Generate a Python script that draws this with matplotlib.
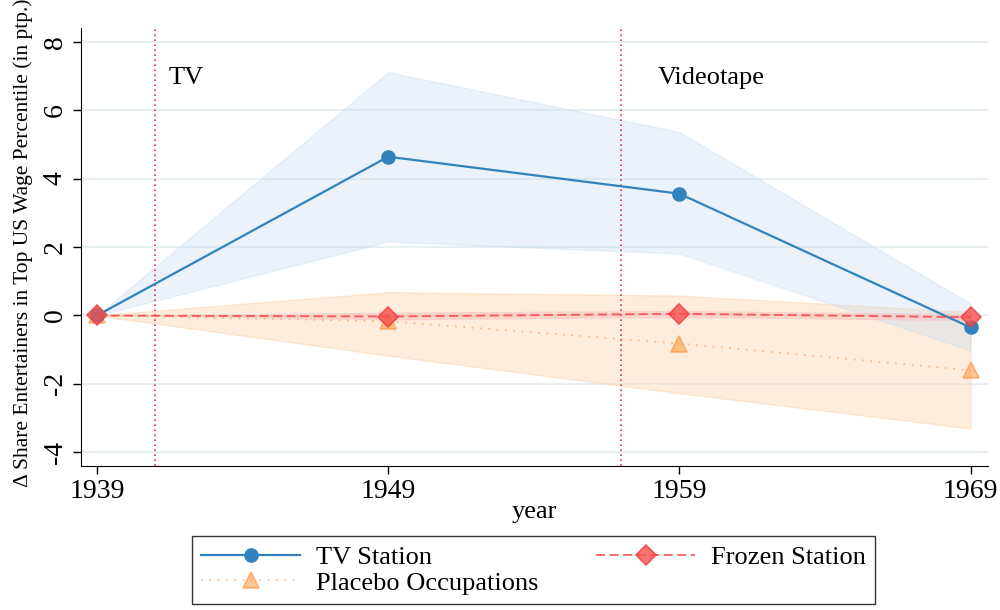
import numpy as np
import matplotlib
matplotlib.use('Agg')
import matplotlib.pyplot as plt

plt.rcParams['font.family'] = ['Liberation Serif', 'DejaVu Serif']
plt.rcParams['axes.unicode_minus'] = False

years = [1939, 1949, 1959, 1969]

tv = [0.0, 4.64, 3.56, -0.35]
tv_lo = [0.0, 2.16, 1.81, -1.02]
tv_hi = [0.0, 7.11, 5.36, 0.35]

frozen = [0.0, -0.03, 0.05, -0.05]
frozen_lo = [0.0, -0.13, -0.06, -0.15]
frozen_hi = [0.0, 0.10, 0.15, 0.05]

placebo = [0.0, -0.17, -0.82, -1.60]
placebo_lo = [0.0, -1.17, -2.27, -3.30]
placebo_hi = [0.0, 0.68, 0.58, 0.10]

event_years = [1941.0, 1957.0]
event_labels = ['TV', 'Videotape']
label_x = [1941.45, 1958.25]

fig = plt.figure(figsize=(10, 6.1), dpi=100)
ax = fig.add_axes([0.081, 0.236, 0.907, 0.718])

blue = '#3182bd'
orange = '#fd8d3c'
red = '#f03b3b'

ax.fill_between(years, placebo_lo, placebo_hi, color='#fdd9b5', alpha=0.45,
                edgecolor='#fdd0a2', lw=1, zorder=1)
ax.fill_between(years, tv_lo, tv_hi, color='#c6dbef', alpha=0.35,
                edgecolor='#c6dbef', lw=1, zorder=1)
ax.fill_between(years, frozen_lo, frozen_hi, color='#fcbaba', alpha=0.5,
                lw=0, zorder=1)

ax.plot(years, tv, color=blue, lw=1.6, marker='o', ms=9.5, zorder=4,
        label='TV Station')
ax.plot(years, placebo, color=orange, lw=1.2, ls=(0, (1, 4)), alpha=0.6,
        marker='^', ms=11, mfc='#fd9f4c', mec=orange, mew=1.2, zorder=3,
        label='Placebo Occupations')
ax.plot(years, frozen, color=red, lw=1.3, ls=(0, (5, 2.5)), alpha=0.8,
        marker='D', ms=10, mfc='#f75050', mec=red, mew=1.2, zorder=5,
        label='Frozen Station')

for xv, lab, tx in zip(event_years, event_labels, label_x):
    ax.axvline(xv, color='#d6336c', ls=(0, (1, 2)), lw=1.2, zorder=2)
    ax.text(tx, 6.95, lab, fontsize=19, va='center', ha='left')

ax.set_xlim(1938.45, 1969.6)
ax.set_ylim(-4.4, 8.4)
ax.set_xticks(years)
ax.set_yticks([-4, -2, 0, 2, 4, 6, 8])
ax.yaxis.grid(True, color='#e8eff3', lw=1.5)
ax.set_axisbelow(True)
for s in ['top', 'right']:
    ax.spines[s].set_visible(False)
ax.tick_params(labelsize=20, length=6, width=1)
for t in ax.get_yticklabels():
    t.set_rotation(90)
    t.set_va('center')
ax.set_xlabel('year', fontsize=19, labelpad=-2)
ax.set_ylabel('\u0394 Share Entertainers in Top US Wage Percentile (in ptp.)',
              fontsize=15.5)
ax.yaxis.set_label_coords(-0.053, 0.51)

h, l = ax.get_legend_handles_labels()
leg = fig.legend(h, l, ncol=2,
                 loc='center', bbox_to_anchor=(0.192, 0.0115, 0.683, 0.108),
                 mode='expand', fontsize=19, frameon=True, fancybox=False,
                 edgecolor='black', handlelength=3.75, borderaxespad=0,
                 labelspacing=0.08, columnspacing=2.0, handletextpad=0.6,
                 borderpad=0.35)
leg.get_frame().set_linewidth(1)

fig.savefig('out.png', dpi=100)
